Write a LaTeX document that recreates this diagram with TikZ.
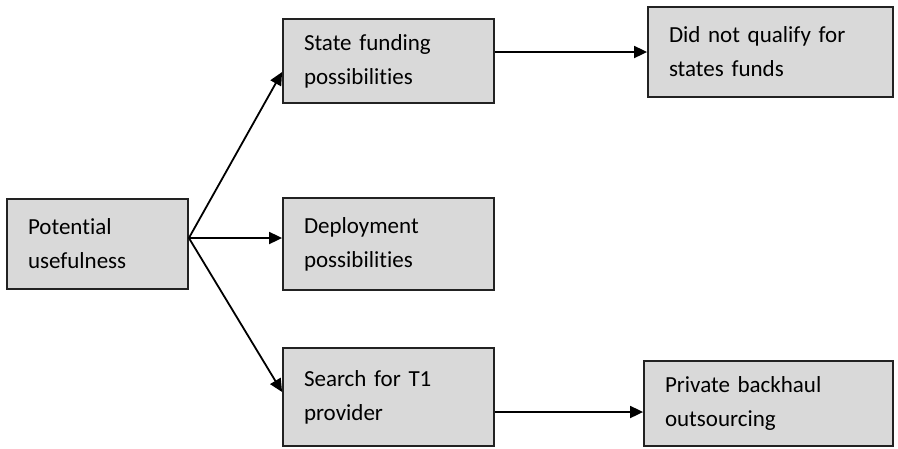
\documentclass[tikz,border=0pt]{standalone}
\usepackage{fontspec}
\setmainfont[Ligatures=NoCommon]{Carlito}
\usetikzlibrary{arrows.meta,calc}
\definecolor{boxfill}{HTML}{D9D9D9}
\definecolor{boxline}{HTML}{222222}
\tikzset{
  box/.style={draw=boxline, fill=boxfill, line width=1.8pt, rectangle,
    inner xsep=21pt, inner ysep=0pt, align=left, anchor=center,
    font=\fontsize{23}{34}\selectfont},
  conn/.style={line width=1.8pt, -{Triangle[length=13pt,width=12pt]}}
}
\begin{document}
\begin{tikzpicture}[x=1pt,y=-1pt]
\useasboundingbox (0,0) rectangle (898,448);
\node[box, minimum width=181pt, minimum height=90pt, text width=139pt] (pot) at (97.5,244) {Potential\\usefulness};
\node[box, minimum width=211pt, minimum height=84pt, text width=169pt] (state) at (388.5,61) {State funding\\possibilities};
\node[box, minimum width=211pt, minimum height=92pt, text width=169pt] (deploy) at (388.5,244) {Deployment\\possibilities};
\node[box, minimum width=211pt, minimum height=98pt, text width=169pt] (search) at (388.5,397) {Search for T1\\provider};
\node[box, minimum width=245pt, minimum height=90pt, text width=203pt] (didnot) at (770.5,52) {Did not qualify for\\states funds};
\node[box, minimum width=249pt, minimum height=85pt, text width=207pt] (private) at (768.5,403.5) {Private backhaul\\outsourcing};
\coordinate (hub) at ($(pot.east)+(0,-6)$);
\coordinate (privin) at ($(private.west)+(0,8.5)$);
\draw[conn] (hub) -- ($(state.west)+(0,11)$);
\draw[conn] (hub) -- (hub -| deploy.west);
\draw[conn] (hub) -- ($(search.west)+(0,-5)$);
\draw[conn] (state.east |- didnot.west) -- (didnot.west);
\draw[conn] (search.east |- privin) -- (privin);
\end{tikzpicture}
\end{document}
